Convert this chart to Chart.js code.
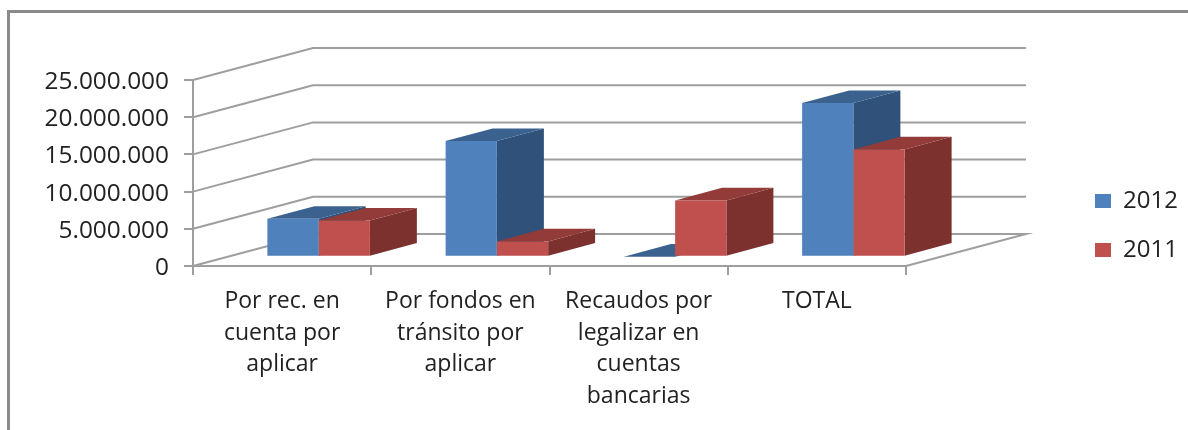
<!DOCTYPE html>
<html>
<head>
<meta charset="utf-8">
<style>
  html, body { margin: 0; padding: 0; background: #fff; }
  canvas { display: block; }
</style>
<script src="https://cdn.jsdelivr.net/npm/chart.js@4/dist/chart.umd.min.js"></script>
</head>
<body>
<canvas id="chart" width="1188" height="430"></canvas>
<script>
const categories = [
    ["Por rec. en", "cuenta por", "aplicar"],
    ["Por fondos en", "tránsito por", "aplicar"],
    ["Recaudos por", "legalizar en", "cuentas", "bancarias"],
    "TOTAL"
];
const values2012 = [5100000, 15550000, 0, 20660000];
const values2011 = [4850000, 2050000, 7570000, 14420000];
const yMax = 25000000;
const yStep = 5000000;

const line = "#9e9e9e";
const text = "#222222";
const font = "'Open Sans'";

// how far the floor and the bars run into the picture
const floorDx = 120, floorDy = -32;
const barOffsetX = 36.5, barOffsetY = -9.3;
const barDx = 47, barDy = -12.6;

const sideColours = ["#30517a", "#7c312f"];
const topColours = ["#3b628f", "#923b38"];

function poly(ctx, pts, fill) {
    ctx.beginPath();
    ctx.moveTo(pts[0][0], pts[0][1]);
    pts.slice(1).forEach(p => ctx.lineTo(p[0], p[1]));
    ctx.closePath();
    ctx.fillStyle = fill;
    ctx.fill();
}

const frame3d = {
    id: "frame3d",
    beforeDraw(chart) {
        const ctx = chart.ctx;
        ctx.save();
        ctx.strokeStyle = "#8a8a8a";
        ctx.lineWidth = 3;
        ctx.beginPath();
        ctx.moveTo(8.5, 430);
        ctx.lineTo(8.5, 11.5);
        ctx.lineTo(1188, 11.5);
        ctx.stroke();
        ctx.restore();
    },
    afterLayout(chart) {
        // legend sits by itself to the right of the plot
        const legend = chart.legend;
        legend.left = 1070;
        legend.right = 1188;
        legend.top = 164;
        legend.bottom = 340;
        legend.width = 118;
        legend.height = 176;

        // digits sit a little high on a middle baseline
        const y = chart.scales.y;
        const items = y._computeLabelItems.bind(y);
        y._computeLabelItems = area => items(area).map(it => ({...it, textOffset: it.textOffset + 2}));
    },
    beforeDatasetsDraw(chart) {
        const ctx = chart.ctx;
        const {left, right} = chart.chartArea;
        const y = chart.scales.y;

        ctx.save();
        ctx.strokeStyle = line;
        ctx.lineWidth = 2;
        for (let v = yStep; v <= yMax; v += yStep) {
            const py = y.getPixelForValue(v);
            ctx.beginPath();
            ctx.moveTo(left, py);
            ctx.lineTo(left + floorDx, py + floorDy);
            ctx.lineTo(right + floorDx, py + floorDy);
            ctx.stroke();
        }
        const y0 = y.getPixelForValue(0);
        ctx.beginPath();
        ctx.moveTo(left, y0);
        ctx.lineTo(left + floorDx, y0 + floorDy);
        ctx.lineTo(right + floorDx, y0 + floorDy);
        ctx.lineTo(right, y0);
        ctx.stroke();
        ctx.restore();

        // stays translated until afterDatasetsDraw so the bars follow
        ctx.save();
        ctx.translate(barOffsetX, barOffsetY);
        chart.data.datasets.forEach((ds, i) => {
            chart.getDatasetMeta(i).data.forEach(bar => {
                const x0 = bar.x - bar.width / 2;
                const x1 = bar.x + bar.width / 2;
                poly(ctx, [[x1, bar.y], [x1 + barDx, bar.y + barDy], [x1 + barDx, bar.base + barDy], [x1, bar.base]], sideColours[i]);
                poly(ctx, [[x0, bar.y], [x0 + barDx, bar.y + barDy], [x1 + barDx, bar.y + barDy], [x1, bar.y]], topColours[i]);
            });
        });
    },
    afterDatasetsDraw(chart) {
        chart.ctx.restore();
    }
};

new Chart(document.getElementById("chart"), {
    type: "bar",
    data: {
        labels: categories,
        datasets: [
            {label: "2012", data: values2012, backgroundColor: "#4f81bd", clip: false},
            {label: "2011", data: values2011, backgroundColor: "#c0504d", clip: false}
        ]
    },
    options: {
        responsive: false,
        animation: false,
        devicePixelRatio: 1,
        layout: {padding: {left: 0, top: 80, right: 282, bottom: 0}},
        datasets: {bar: {categoryPercentage: 0.575, barPercentage: 1}},
        plugins: {
            title: {display: false},
            tooltip: {enabled: false},
            legend: {
                position: "chartArea",
                align: "start",
                labels: {
                    boxWidth: 16,
                    boxHeight: 14,
                    padding: 25,
                    color: text,
                    font: {family: font, size: 24}
                }
            }
        },
        scales: {
            x: {
                afterFit(scale) { scale.height = 164; },
                border: {color: line, width: 2},
                grid: {drawOnChartArea: false, color: line, lineWidth: 2, tickLength: 9},
                ticks: {
                    color: text,
                    font: {family: font, size: 23, lineHeight: 1.39},
                    padding: 10,
                    maxRotation: 0,
                    autoSkip: false
                }
            },
            y: {
                min: 0,
                max: yMax,
                afterFit(scale) { scale.width = 193; },
                border: {color: line, width: 2},
                grid: {drawOnChartArea: false, color: line, lineWidth: 2, tickLength: 9},
                ticks: {
                    stepSize: yStep,
                    color: text,
                    font: {family: font, size: 24.4},
                    padding: 15,
                    callback: v => String(v).replace(/\B(?=(\d{3})+$)/g, ".")
                }
            }
        }
    },
    plugins: [frame3d]
});
</script>
</body>
</html>
